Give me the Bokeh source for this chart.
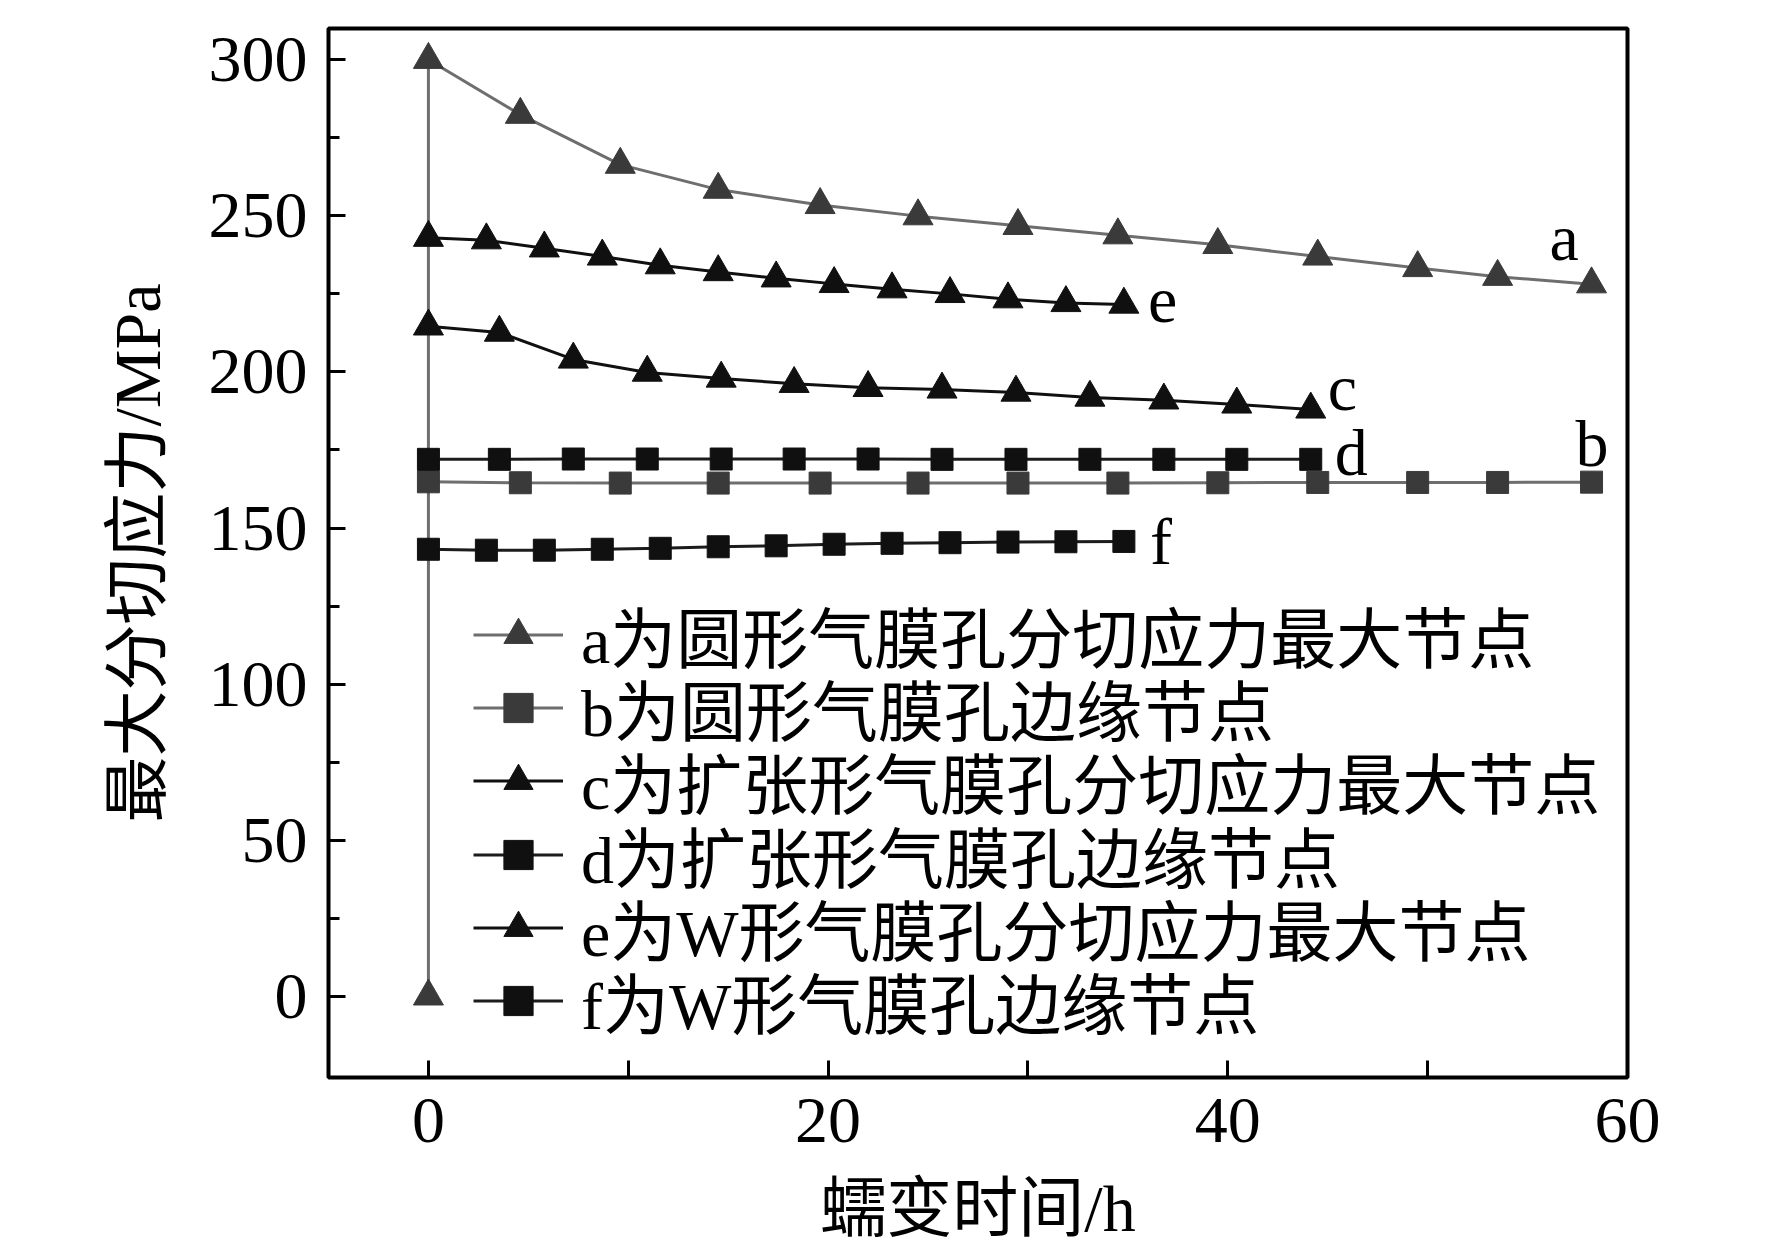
from bokeh.plotting import figure
from bokeh.models import FixedTicker, Label, Legend, LegendItem, Range1d
from bokeh.embed import file_html
from bokeh.resources import INLINE

# ---------------- data ----------------
a_t = [0, 0, 4.6, 9.6, 14.5, 19.6, 24.5, 29.5, 34.5, 39.5, 44.5, 49.5, 53.5, 58.2]
a_v = [0, 300, 282.4, 266.4, 258.4, 253.5, 249.9, 246.8, 243.8, 240.7, 237.0, 233.3, 230.5, 228.1]

b_t = [0, 4.6, 9.6, 14.5, 19.6, 24.5, 29.5, 34.5, 39.5, 44.5, 49.5, 53.5, 58.2]
b_v = [164.8, 164.5, 164.4, 164.4, 164.4, 164.4, 164.4, 164.4, 164.5, 164.6, 164.6, 164.6, 164.7]

c_t = [0, 3.55, 7.25, 10.95, 14.65, 18.3, 22.0, 25.7, 29.4, 33.1, 36.8, 40.45, 44.15]
c_v = [214.6, 212.6, 204.0, 199.8, 197.9, 196.2, 194.9, 194.4, 193.4, 191.8, 190.9, 189.6, 188.0]

d_t = [0, 3.55, 7.25, 10.95, 14.65, 18.3, 22.0, 25.7, 29.4, 33.1, 36.8, 40.45, 44.15]
d_v = [172.0, 172.0, 172.1, 172.1, 172.1, 172.1, 172.1, 172.0, 172.0, 172.0, 172.0, 172.0, 172.0]

e_t = [0, 2.9, 5.8, 8.7, 11.6, 14.5, 17.4, 20.3, 23.2, 26.1, 29.0, 31.9, 34.8]
e_v = [243.0, 242.2, 239.6, 237.0, 234.2, 232.0, 230.0, 228.2, 226.5, 225.0, 223.3, 222.1, 221.6]

f_t = [0, 2.9, 5.8, 8.7, 11.6, 14.5, 17.4, 20.3, 23.2, 26.1, 29.0, 31.9, 34.8]
f_v = [143.2, 142.9, 142.9, 143.2, 143.5, 144.0, 144.3, 144.8, 145.1, 145.3, 145.5, 145.6, 145.7]

legend_labels = [
    "a为圆形气膜孔分切应力最大节点",
    "b为圆形气膜孔边缘节点",
    "c为扩张形气膜孔分切应力最大节点",
    "d为扩张形气膜孔边缘节点",
    "e为W形气膜孔分切应力最大节点",
    "f为W形气膜孔边缘节点",
]
end_labels = ["a", "b", "c", "d", "e", "f"]

x_ticks = [0, 20, 40, 60]
x_minor_ticks = [10, 30, 50]
y_ticks = [0, 50, 100, 150, 200, 250, 300]
y_minor_ticks = [25, 75, 125, 175, 225, 275]

x_title = "蠕变时间/h"
y_title = "最大分切应力/MPa"

# ---------------- styles ----------------
SERIF = "Liberation Serif, Noto Sans CJK SC"
FS = "66px"

p = figure(frame_width=1299, frame_height=1049, output_backend="svg", toolbar_location=None,
           x_range=Range1d(-5, 60), y_range=Range1d(-26, 310),
           min_border_left=328, min_border_right=129, min_border_top=28,
           min_border_bottom=167)
p.background_fill_color = "white"
p.border_fill_color = "white"
p.outline_line_color = "black"
p.outline_line_width = 4
p.grid.visible = False

p.xaxis.ticker = FixedTicker(ticks=x_ticks, minor_ticks=x_minor_ticks)
p.yaxis.ticker = FixedTicker(ticks=y_ticks, minor_ticks=y_minor_ticks)
for ax in (p.xaxis[0], p.yaxis[0]):
    ax.axis_line_color = None
    ax.major_tick_out = 0
    ax.minor_tick_out = 0
    ax.major_tick_in = 17
    ax.major_tick_line_width = 3
    ax.minor_tick_line_width = 3
    ax.major_tick_line_color = "black"
    ax.minor_tick_line_color = "black"
    ax.major_label_text_font = "Liberation Serif"
    ax.major_label_text_font_size = FS
    ax.major_label_text_color = "black"
    ax.axis_label_text_font = SERIF
    ax.axis_label_text_font_size = FS
    ax.axis_label_text_font_style = "normal"
    ax.axis_label_text_color = "black"
p.xaxis.minor_tick_in = 17
p.yaxis.minor_tick_in = 11
p.xaxis.major_label_standoff = 21
p.yaxis.major_label_standoff = 21
p.xaxis.axis_label = x_title
p.yaxis.axis_label = y_title
p.xaxis.axis_label_standoff = 27
p.yaxis.axis_label_standoff = 32

series = [
    (a_t, a_v, "triangle", 30, "#3a3a3a", "#6e6e6e"),
    (b_t, b_v, "square", 22, "#3a3a3a", "#6e6e6e"),
    (c_t, c_v, "triangle", 30, "#101010", "#101010"),
    (d_t, d_v, "square", 22, "#101010", "#1c1c1c"),
    (e_t, e_v, "triangle", 30, "#101010", "#101010"),
    (f_t, f_v, "square", 22, "#101010", "#1c1c1c"),
]

# one single-item legend per row, so the row pitch is set explicitly
ROW0_FROM_BOTTOM = 443.3   # centre of first legend row above the frame bottom (px)
ROW_PITCH = 73.3
ITEM_HALF = 48
for i, ((t, v, marker, size, mcol, lcol), lab) in enumerate(zip(series, legend_labels)):
    ln = p.line(t, v, line_color=lcol, line_width=3)
    sc = p.scatter(t, v, marker=marker, size=size, fill_color=mcol, line_color=mcol)
    loc_y = ROW0_FROM_BOTTOM - i * ROW_PITCH - ITEM_HALF
    lg = Legend(items=[LegendItem(label=lab, renderers=[ln, sc])],
                location=(145, round(loc_y)), padding=0, margin=0, spacing=0,
                glyph_width=90, glyph_height=73, label_height=73, label_standoff=18,
                label_text_font=SERIF, label_text_font_size=FS, label_text_color="black",
                background_fill_alpha=0, border_line_color=None)
    p.add_layout(lg)

# end-of-series letters, offset from each series' last point (screen px)
offsets = {"a": (-42, 47), "b": (-16, 39), "c": (17, 22), "d": (24, 7), "e": (24, 4), "f": (26, 0)}
for (t, v, *_), lab in zip(series, end_labels):
    dx, dy = offsets[lab]
    p.add_layout(Label(x=t[-1], y=v[-1], x_offset=dx, y_offset=dy, text=lab,
                       text_font="Liberation Serif", text_font_size=FS, text_color="black",
                       text_baseline="alphabetic", text_align="left"))

open("out.html", "w").write(file_html(p, INLINE))
